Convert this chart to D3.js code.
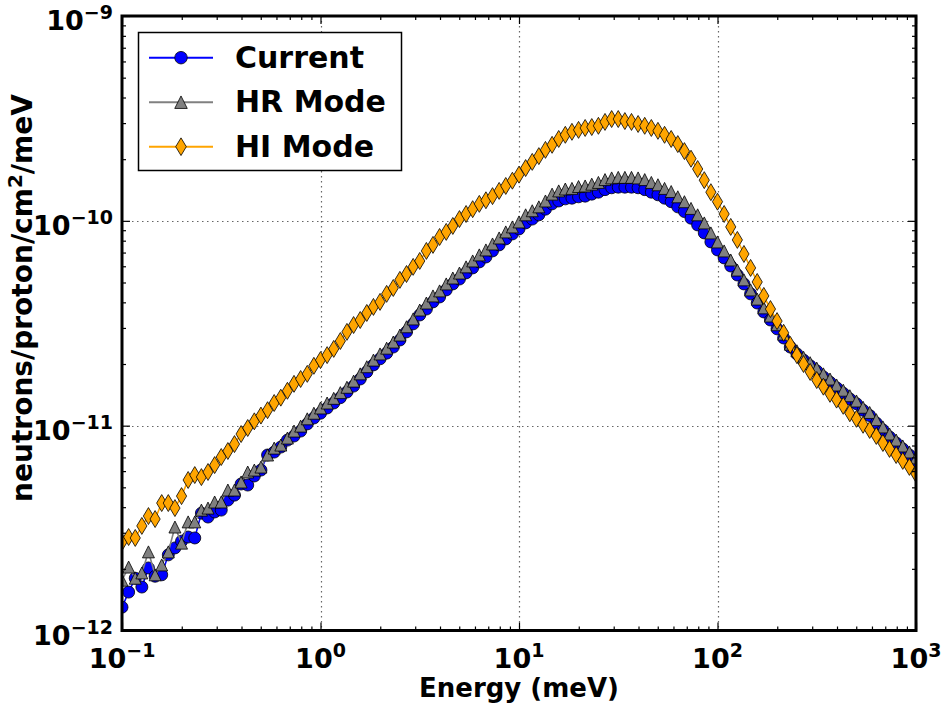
<!DOCTYPE html>
<html>
<head>
<meta charset="utf-8">
<script src="https://cdn.jsdelivr.net/npm/d3@7"></script>
<style>
  html, body { margin: 0; padding: 0; background: #fff; }
  svg { display: block; font-family: 'DejaVu Sans', sans-serif; font-weight: bold; }
</style>
</head>
<body>
<div id="chart"></div>
<script>
// energy bins (meV)
const energy = [
  0.1, 0.108, 0.1166, 0.1259, 0.1359, 0.1468, 0.1585, 0.1711, 0.1848, 0.1995,
  0.2154, 0.2326, 0.2512, 0.2712, 0.2929, 0.3162, 0.3415, 0.3687, 0.3981, 0.4299,
  0.4642, 0.5012, 0.5412, 0.5843, 0.631, 0.6813, 0.7356, 0.7943, 0.8577, 0.9261,
  1, 1.08, 1.166, 1.259, 1.359, 1.468, 1.585, 1.711, 1.848, 1.995,
  2.154, 2.326, 2.512, 2.712, 2.929, 3.162, 3.415, 3.687, 3.981, 4.299,
  4.642, 5.012, 5.412, 5.843, 6.31, 6.813, 7.356, 7.943, 8.577, 9.261,
  10, 10.8, 11.66, 12.59, 13.59, 14.68, 15.85, 17.11, 18.48, 19.95,
  21.54, 23.26, 25.12, 27.12, 29.29, 31.62, 34.15, 36.87, 39.81, 42.99,
  46.42, 50.12, 54.12, 58.43, 63.1, 68.13, 73.56, 79.43, 85.77, 92.61,
  100, 108, 116.6, 125.9, 135.9, 146.8, 158.5, 171.1, 184.8, 199.5,
  215.4, 232.6, 251.2, 271.2, 292.9, 316.2, 341.5, 368.7, 398.1, 429.9,
  464.2, 501.2, 541.2, 584.3, 631, 681.3, 735.6, 794.3, 857.7, 926.1,
  1000
];

// flux, in units of 1e-12 neutrons/proton/cm2/meV
const yUnit = 1e-12;
const current = [
  1.30, 1.54, 1.80, 1.63, 2.02, 1.84, 1.87, 2.34, 2.53, 2.73,
  2.86, 2.83, 3.74, 3.58, 3.79, 3.87, 4.33, 4.58, 5.19, 5.13,
  5.68, 6.07, 7.19, 7.43, 7.86, 8.50, 8.90, 9.41, 10.2, 10.9,
  11.5, 12.2, 12.9, 13.7, 14.6, 15.6, 16.9, 18.3, 19.8, 21.2,
  22.6, 24.2, 26.2, 28.7, 31.4, 34.7, 37.1, 40.2, 42.5, 46.0,
  49.2, 52.0, 55.7, 58.9, 63.0, 66.6, 71.3, 76.3, 81.6, 86.3,
  91.3, 97.7, 102, 107, 114, 121, 125, 128, 129, 131,
  132, 135, 138, 142, 145, 146, 146, 146, 145, 142,
  138, 134, 129, 124, 117, 111, 103, 95.5, 87.3, 78.9,
  72.1, 65.9, 60.2, 54.4, 49.2, 44.0, 39.7, 35.9, 32.8, 29.7,
  26.8, 24.2, 22.4, 20.9, 19.6, 18.5, 17.3, 16.3, 15.3, 14.4,
  13.5, 12.8, 11.9, 11.2, 10.3, 9.53, 8.81, 8.23, 7.70, 7.19,
  6.73
];
const hrMode = [
  1.76, 2.04, 1.80, 1.91, 2.42, 1.87, 2.09, 2.42, 3.20, 2.67,
  3.39, 3.39, 3.87, 3.96, 4.24, 4.24, 4.85, 4.85, 5.31, 5.94,
  6.07, 6.28, 7.19, 7.77, 8.04, 8.70, 9.41, 9.95, 10.8, 11.5,
  12.2, 12.9, 13.6, 14.5, 15.4, 16.5, 17.9, 19.4, 20.9, 22.4,
  23.9, 25.6, 27.7, 30.4, 33.2, 36.7, 39.7, 43.0, 45.5, 49.2,
  52.6, 55.6, 59.6, 63.7, 68.2, 72.1, 77.1, 82.5, 88.3, 93.4,
  98.8, 107, 112, 117, 125, 135, 140, 143, 144, 147,
  148, 151, 154, 159, 162, 163, 163, 163, 162, 159,
  154, 150, 144, 139, 131, 124, 115, 107, 97.7, 87.3,
  78.9, 71.3, 64.4, 57.5, 51.5, 46.0, 41.5, 37.6, 34.3, 31.1,
  28.0, 25.0, 23.2, 21.6, 20.3, 19.1, 17.9, 16.9, 15.8, 14.9,
  14.0, 13.2, 12.3, 11.6, 10.7, 9.86, 9.11, 8.51, 7.96, 7.44,
  6.96
];
const hiMode = [
  2.70, 2.86, 2.83, 3.24, 3.62, 3.50, 4.19, 4.19, 3.96, 4.53,
  5.43, 5.74, 5.61, 5.94, 6.42, 7.03, 7.52, 8.13, 9.10, 9.74,
  10.5, 11.2, 11.9, 12.9, 13.7, 14.8, 16.0, 16.9, 17.9, 19.6,
  20.9, 22.1, 23.7, 25.9, 28.7, 31.0, 32.8, 35.5, 38.0, 40.2,
  44.0, 47.0, 51.5, 55.0, 59.6, 63.7, 71.3, 76.3, 83.4, 88.3,
  94.4, 102, 108, 114, 121, 126, 132, 140, 148, 157,
  168, 181, 194, 207, 222, 235, 251, 263, 272, 278,
  284, 287, 291, 304, 314, 314, 307, 304, 297, 291,
  284, 275, 263, 251, 237, 219, 201, 179, 158, 138,
  124, 108, 93.4, 80.7, 68.9, 58.9, 50.3, 43.0, 37.1, 32.4,
  28.4, 24.8, 22.1, 20.0, 18.3, 16.7, 15.5, 14.3, 13.4, 12.5,
  11.5, 10.8, 10.1, 9.53, 8.91, 8.23, 7.70, 7.19, 6.73, 6.29,
  5.81
];

const seriesNames = ['Current', 'HR Mode', 'HI Mode'];
const xTickExponents = [-1, 0, 1, 2, 3];
const yTickExponents = [-12, -11, -10, -9];
const xAxisLabel = 'Energy (meV)';

(function () {
  const W = 941, H = 709;
  const box = { left: 122, right: 916, top: 16, bottom: 630.5 };

  const estilos = [
    { color: '#0000ff', shape: 'circle' },
    { color: '#808080', shape: 'triangle' },
    { color: '#ffa500', shape: 'diamond' }
  ];
  const series = [current, hrMode, hiMode].map((vals, k) => ({
    name: seriesNames[k],
    points: vals.map((v, i) => [energy[i], v * yUnit]),
    ...estilos[k]
  }));

  function markerPath(shape, s) {
    const h = s / 2;
    if (shape === 'circle') return d3.symbol(d3.symbolCircle, Math.PI * h * h)();
    if (shape === 'triangle') return `M0,${-h}L${h},${h}L${-h},${h}Z`;
    const dh = s * Math.SQRT1_2, dw = 0.6 * dh;
    return `M0,${-dh}L${dw},0L0,${dh}L${-dw},0Z`;
  }

  const svg = d3.select('#chart').append('svg')
    .attr('width', W).attr('height', H)
    .attr('viewBox', `0 0 ${W} ${H}`);

  svg.append('rect').attr('width', W).attr('height', H).attr('fill', '#fff');

  const x = d3.scaleLog().domain([0.1, 1000]).range([box.left, box.right]);
  const y = d3.scaleLog().domain([1e-12, 1e-9]).range([box.bottom, box.top]);

  svg.append('clipPath').attr('id', 'plotclip')
    .append('rect')
    .attr('x', box.left).attr('y', box.top)
    .attr('width', box.right - box.left).attr('height', box.bottom - box.top);

  // grid, dotted, on major ticks only
  const grid = svg.append('g')
    .attr('stroke', '#666').attr('stroke-width', 1.2).attr('stroke-dasharray', '1.5,3.5');
  xTickExponents.slice(1, -1).forEach((e) => {
    const px = Math.round(x(10 ** e)) + 0.5;
    grid.append('line').attr('x1', px).attr('x2', px).attr('y1', box.top).attr('y2', box.bottom);
  });
  yTickExponents.slice(1, -1).forEach((e) => {
    const py = Math.round(y(10 ** e)) + 0.5;
    grid.append('line').attr('x1', box.left).attr('x2', box.right).attr('y1', py).attr('y2', py);
  });

  // series
  const capa = svg.append('g').attr('clip-path', 'url(#plotclip)');
  const linea = d3.line().x((d) => x(d[0])).y((d) => y(d[1]));
  series.forEach((s) => {
    const g = capa.append('g');
    g.append('path')
      .attr('d', linea(s.points))
      .attr('fill', 'none')
      .attr('stroke', s.color)
      .attr('stroke-width', 1.6);
    g.selectAll('path.mk')
      .data(s.points)
      .enter()
      .append('path')
      .attr('class', 'mk')
      .attr('d', markerPath(s.shape, 12))
      .attr('transform', (d) => `translate(${x(d[0])},${y(d[1])})`)
      .attr('fill', s.color)
      .attr('stroke', '#000')
      .attr('stroke-width', 0.8);
  });

  // ticks, inward on all four sides
  const majorX = xTickExponents.map((e) => 10 ** e);
  const minorX = x.ticks().filter((v) => !majorX.some((m) => Math.abs(m - v) / m < 1e-6));
  const majorY = yTickExponents.map((e) => 10 ** e);
  const minorY = y.ticks().filter((v) => !majorY.some((m) => Math.abs(m - v) / m < 1e-6));

  function ticks(axisGen, transform, values, size) {
    svg.append('g')
      .attr('transform', transform)
      .call(axisGen.tickValues(values).tickSize(-size).tickFormat(''))
      .call((g) => g.select('.domain').remove())
      .call((g) => g.selectAll('line').attr('stroke', '#000').attr('stroke-width', 1.2));
  }
  [[majorX, 8], [minorX, 4]].forEach(([vals, len]) => {
    ticks(d3.axisBottom(x), `translate(0,${box.bottom})`, vals, len);
    ticks(d3.axisTop(x), `translate(0,${box.top})`, vals, len);
  });
  [[majorY, 8], [minorY, 4]].forEach(([vals, len]) => {
    ticks(d3.axisLeft(y), `translate(${box.left},0)`, vals, len);
    ticks(d3.axisRight(y), `translate(${box.right},0)`, vals, len);
  });

  // frame
  svg.append('rect')
    .attr('x', box.left).attr('y', box.top)
    .attr('width', box.right - box.left).attr('height', box.bottom - box.top)
    .attr('fill', 'none').attr('stroke', '#000').attr('stroke-width', 3);

  // tick labels 10^n
  function potencia(t, e) {
    t.append('tspan').text('10');
    t.append('tspan').attr('dy', -11).attr('font-size', 19)
      .text(e < 0 ? '\u2212' + -e : String(e));
  }
  xTickExponents.forEach((e) => {
    const t = svg.append('text')
      .attr('x', x(10 ** e)).attr('y', 668)
      .attr('text-anchor', 'middle').attr('font-size', 27);
    potencia(t, e);
  });
  yTickExponents.forEach((e) => {
    const t = svg.append('text')
      .attr('x', 113).attr('y', y(10 ** e) + 14)
      .attr('text-anchor', 'end').attr('font-size', 27);
    potencia(t, e);
  });

  // axis labels
  svg.append('text')
    .attr('x', (box.left + box.right) / 2).attr('y', 697)
    .attr('text-anchor', 'middle').attr('font-size', 26)
    .text(xAxisLabel);

  const yl = svg.append('text')
    .attr('transform', 'translate(32,298) rotate(-90)')
    .attr('text-anchor', 'middle').attr('font-size', 28);
  yl.append('tspan').text('neutrons/proton/cm');
  yl.append('tspan').attr('dy', -10).attr('font-size', 20).text('2');
  yl.append('tspan').attr('dy', 10).text('/meV');

  // legend
  const leg = svg.append('g');
  leg.append('rect')
    .attr('x', 138.5).attr('y', 32.5).attr('width', 263).attr('height', 138)
    .attr('fill', '#fff').attr('stroke', '#000').attr('stroke-width', 1.5);
  series.forEach((s, k) => {
    const cy = 57.7 + k * 44.5;
    leg.append('line')
      .attr('x1', 149).attr('x2', 213).attr('y1', cy).attr('y2', cy)
      .attr('stroke', s.color).attr('stroke-width', 2);
    leg.append('path')
      .attr('d', markerPath(s.shape, 12.5))
      .attr('transform', `translate(181,${cy})`)
      .attr('fill', s.color).attr('stroke', '#000').attr('stroke-width', 0.8);
    leg.append('text')
      .attr('x', 235).attr('y', cy + 10)
      .attr('font-size', 30)
      .text(s.name);
  });
})();
</script>
</body>
</html>
